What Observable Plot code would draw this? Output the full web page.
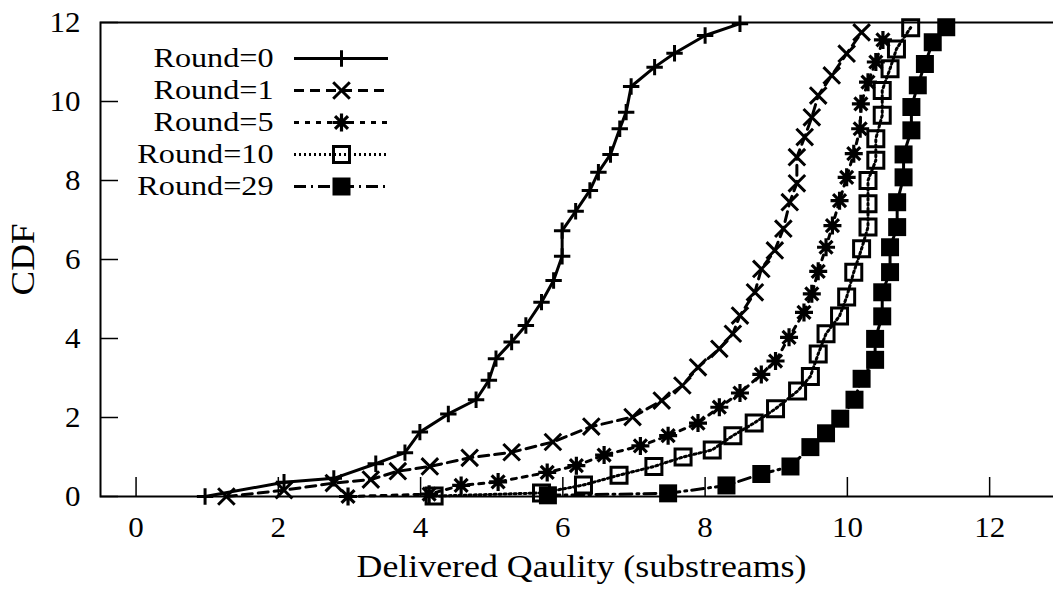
<!DOCTYPE html>
<html>
<head>
<meta charset="utf-8">
<script src="https://cdn.jsdelivr.net/npm/d3@7"></script>
<script src="https://cdn.jsdelivr.net/npm/@observablehq/plot@0.6"></script>
<style>
  body { margin: 0; background: #fff; }
  #wrap { position: relative; width: 1053px; height: 590px; overflow: hidden; }
  #wrap svg { position: absolute; left: 0; top: 0; }
</style>
</head>
<body>
<div id="wrap"></div>
<script>
// ---- data ----
const seriesNames = ["Round=0", "Round=1", "Round=5", "Round=10", "Round=29"];

const r0x = [0.97, 2.08, 2.78, 3.37, 3.78, 3.99, 4.39, 4.78, 4.96, 5.06, 5.28, 5.48, 5.70, 5.87, 5.99, 5.99, 6.18, 6.38, 6.50, 6.67, 6.80, 6.89, 6.96, 7.29, 7.57, 8.00, 8.49];
const r0y = [0, 0.36, 0.46, 0.83, 1.11, 1.63, 2.09, 2.45, 2.94, 3.49, 3.91, 4.33, 4.92, 5.47, 6.08, 6.73, 7.22, 7.75, 8.21, 8.66, 9.31, 9.73, 10.38, 10.87, 11.22, 11.67, 11.97];

const r1x = [1.27, 2.08, 2.78, 3.30, 3.68, 4.13, 4.69, 5.28, 5.86, 6.40, 6.98, 7.39, 7.68, 7.90, 8.20, 8.39, 8.49, 8.70, 8.79, 8.98, 9.10, 9.19, 9.29, 9.29, 9.40, 9.50, 9.59, 9.78, 9.99, 10.20];
const r1y = [0, 0.16, 0.34, 0.43, 0.64, 0.76, 0.98, 1.12, 1.38, 1.77, 2.01, 2.43, 2.81, 3.27, 3.74, 4.12, 4.58, 5.17, 5.76, 6.23, 6.78, 7.45, 7.93, 8.59, 9.10, 9.60, 10.15, 10.66, 11.21, 11.75];

const r5x = [2.98, 4.12, 4.57, 5.09, 5.78, 6.19, 6.58, 7.09, 7.48, 7.90, 8.20, 8.49, 8.79, 8.99, 9.18, 9.39, 9.50, 9.59, 9.70, 9.79, 9.89, 9.99, 10.09, 10.18, 10.19, 10.29, 10.40, 10.50];
const r5y = [0, 0.06, 0.28, 0.37, 0.61, 0.78, 1.05, 1.28, 1.54, 1.86, 2.26, 2.62, 3.09, 3.43, 4.03, 4.66, 5.13, 5.70, 6.31, 6.86, 7.49, 8.08, 8.68, 9.31, 9.94, 10.49, 11.00, 11.56];

const r10x = [4.19, 5.70, 6.29, 6.79, 7.28, 7.69, 8.10, 8.39, 8.69, 8.99, 9.30, 9.48, 9.59, 9.70, 9.89, 9.99, 10.09, 10.20, 10.29, 10.29, 10.29, 10.40, 10.40, 10.49, 10.49, 10.60, 10.69, 10.89];
const r10y = [0.01, 0.09, 0.29, 0.54, 0.76, 1.00, 1.18, 1.54, 1.86, 2.22, 2.67, 3.04, 3.61, 4.12, 4.57, 5.05, 5.68, 6.27, 6.82, 7.41, 8.00, 8.51, 9.06, 9.65, 10.28, 10.83, 11.33, 11.87];

const r29x = [5.79, 7.48, 8.30, 8.79, 9.20, 9.48, 9.70, 9.90, 10.10, 10.20, 10.39, 10.39, 10.49, 10.49, 10.60, 10.60, 10.70, 10.70, 10.79, 10.79, 10.90, 10.90, 10.99, 11.09, 11.20, 11.39];
const r29y = [0.03, 0.08, 0.28, 0.57, 0.76, 1.25, 1.60, 1.97, 2.45, 2.98, 3.46, 3.99, 4.56, 5.17, 5.68, 6.31, 6.82, 7.45, 8.08, 8.66, 9.27, 9.86, 10.41, 10.95, 11.50, 11.88];

const xTicks = [0, 2, 4, 6, 8, 10, 12];
const yTicks = [0, 2, 4, 6, 8, 10, 12];
const xLabel = "Delivered Qaulity (substreams)";
const yLabel = "CDF";

// ---- build table ----
const seriesX = [r0x, r1x, r5x, r10x, r29x];
const seriesY = [r0y, r1y, r5y, r10y, r29y];
const table = seriesNames.flatMap((name, i) => seriesX[i].map((x, j) => ({name, x, y: seriesY[i][j]})));

// ---- styles ----
const FONT = "'Liberation Serif', 'Times New Roman', Times, serif";
const dashes = [undefined, "10,6", "5,6", "2,3", "12,5,2,5"];
function sym(fn) { return {draw(ctx, size) { fn(ctx, Math.sqrt(size / Math.PI)); }}; }
const plusSym = sym((c, r) => { c.moveTo(-r, 0); c.lineTo(r, 0); c.moveTo(0, -r); c.lineTo(0, r); });
const timesSym = sym((c, r) => { c.moveTo(-r, -r); c.lineTo(r, r); c.moveTo(-r, r); c.lineTo(r, -r); });
const asterSym = sym((c, r) => { const s = r * 0.72; c.moveTo(-r, 0); c.lineTo(r, 0); c.moveTo(0, -r); c.lineTo(0, r); c.moveTo(-s, -s); c.lineTo(s, s); c.moveTo(-s, s); c.lineTo(s, -s); });
const squareSym = sym((c, r) => { c.moveTo(-r, -r); c.lineTo(r, -r); c.lineTo(r, r); c.lineTo(-r, r); c.closePath(); });
const markers = [
  {symbol: plusSym, r: 8.2, fill: "none", stroke: "black", strokeWidth: 3},
  {symbol: timesSym, r: 8.3, fill: "none", stroke: "black", strokeWidth: 3},
  {symbol: asterSym, r: 9, fill: "none", stroke: "black", strokeWidth: 3.2},
  {symbol: squareSym, r: 8, fill: "none", stroke: "black", strokeWidth: 3},
  {symbol: squareSym, r: 9, fill: "black", stroke: "none"}
];

// ---- main chart ----
const marks = [
  Plot.frame({stroke: "black", strokeWidth: 2}),
  Plot.axisX({ticks: xTicks, tickSize: -19, tickPadding: 39, tickFormat: d => d, label: null, strokeWidth: 1.5, fontSize: 29}),
  Plot.axisY({ticks: yTicks, tickSize: -18, tickPadding: 38, tickFormat: d => d, label: null, strokeWidth: 1.5, fontSize: 29}),
  Plot.text([xLabel], {frameAnchor: "bottom", lineAnchor: "middle", textAnchor: "middle", dy: 70, dx: 3, fontSize: 32}),
  Plot.text([yLabel], {frameAnchor: "left", lineAnchor: "middle", textAnchor: "middle", dx: -77, rotate: -90, fontSize: 33})
];
seriesNames.forEach((n, i) => {
  const d = table.filter(t => t.name === n);
  marks.push(Plot.line(d, {x: "x", y: "y", stroke: "black", strokeWidth: 3, strokeDasharray: dashes[i]}));
  marks.push(Plot.dot(d, {x: "x", y: "y", ...markers[i]}));
});

const chart = Plot.plot({
  width: 1053, height: 590,
  marginLeft: 100, marginTop: 22, marginBottom: 94, marginRight: -3,
  x: {domain: [-0.5, 12.94]},
  y: {domain: [0, 12]},
  style: {fontFamily: FONT, fontSize: "28px", color: "black", background: "white", overflow: "visible"},
  marks
});

// ---- legend overlay (its own small scales) ----
const legendMarks = [];
seriesNames.forEach((n, i) => {
  legendMarks.push(Plot.ruleY([n], {y: d => d, x1: 0, x2: 1, stroke: "black", strokeWidth: 3, strokeDasharray: dashes[i]}));
  legendMarks.push(Plot.dot([n], {y: d => d, x: 0.5, ...markers[i]}));
  legendMarks.push(Plot.text([n], {y: d => d, x: 0, textAnchor: "end", lineAnchor: "middle", dx: -21, fontSize: 28}));
});
const legend = Plot.plot({
  width: 1053, height: 590,
  marginLeft: 294, marginRight: 1053 - 388, marginTop: 57, marginBottom: 590 - 187,
  x: {domain: [0, 1], axis: null},
  y: {type: "point", domain: seriesNames, padding: 0, axis: null},
  style: {fontFamily: FONT, fontSize: "28px", color: "black", background: "none"},
  marks: legendMarks
});

const wrap = document.getElementById("wrap");
wrap.appendChild(chart);
wrap.appendChild(legend);

// widen glyphs horizontally as in the reference rendering
function stretchAll(root, kOf) {
  root.querySelectorAll("text").forEach(t => {
    const k = kOf(t.textContent);
    const L = t.getComputedTextLength();
    if (L > 0 && k !== 1) { t.setAttribute("textLength", (L * k).toFixed(1)); t.setAttribute("lengthAdjust", "spacingAndGlyphs"); }
  });
}
stretchAll(chart, s => s === xLabel ? 1.12 : s === yLabel ? 1.12 : 1.07);
stretchAll(legend, s => 1.15);
</script>
</body>
</html>
